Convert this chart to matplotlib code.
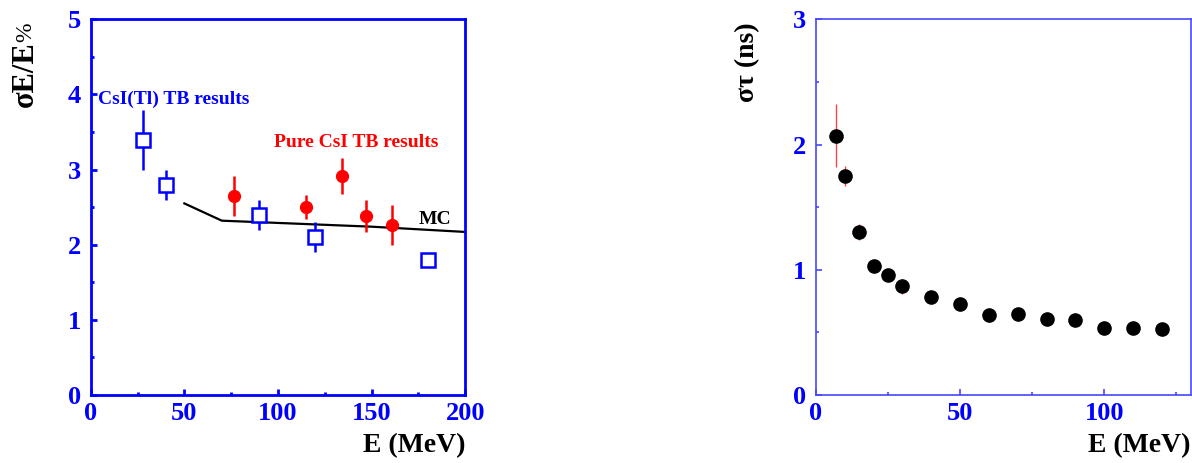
import matplotlib.pyplot as plt
from matplotlib.ticker import MultipleLocator

# left panel: energy resolution
csitl_e = [28, 40, 90, 120, 180]
csitl_res = [3.39, 2.80, 2.40, 2.10, 1.80]
csitl_err = [0.40, 0.20, 0.20, 0.20, 0.05]

pure_e = [76.5, 115, 134, 147, 161]
pure_res = [2.65, 2.50, 2.92, 2.38, 2.26]
pure_err = [0.27, 0.16, 0.24, 0.21, 0.27]

mc_e = [50, 70, 100, 150, 200]
mc_res = [2.55, 2.32, 2.29, 2.24, 2.17]

# right panel: time resolution
t_e = [7, 10, 15, 20, 25, 30, 40, 50, 60, 70, 80, 90, 100, 110, 120]
t_sigma = [2.07, 1.745, 1.30, 1.027, 0.956, 0.870, 0.783, 0.729, 0.641, 0.650, 0.607, 0.596, 0.538, 0.538, 0.530]
t_err = [0.25, 0.08, 0.065, 0.02, 0.02, 0.06, 0.02, 0.02, 0.02, 0.02, 0.02, 0.02, 0.02, 0.02, 0.02]

SERIF = ['Liberation Serif', 'DejaVu Serif']
W, H = 1192, 463

fig = plt.figure(figsize=(W / 100, H / 100), dpi=100)
ax1 = fig.add_axes([90.7 / W, 68 / H, 374.6 / W, 375.7 / H])
ax2 = fig.add_axes([816 / W, 68 / H, 374.7 / W, 375.7 / H])


def style_axes(ax, spine_color, spine_lw):
  for s in ax.spines.values():
    s.set_color(spine_color)
    s.set_linewidth(spine_lw)
  ax.tick_params(which='both', direction='in', top=False, right=False, colors=spine_color,
                 labelcolor='blue', width=spine_lw)
  ax.tick_params(which='major', length=4.3)
  ax.tick_params(which='minor', length=2.2)
  ax.tick_params(axis='x', pad=5)
  ax.tick_params(axis='y', pad=7)
  for lab in ax.get_xticklabels() + ax.get_yticklabels():
    lab.set_fontfamily(SERIF)
    lab.set_fontweight('bold')
    lab.set_fontsize(19)


# left
ax1.errorbar(csitl_e, csitl_res, yerr=csitl_err, fmt='s', ms=10, mfc='white', mec='blue', mew=1.8,
             ecolor='blue', elinewidth=1.8, capsize=0, zorder=3)
ax1.errorbar(pure_e, pure_res, yerr=pure_err, fmt='o', ms=8.5, mfc='red', mec='red',
             ecolor='red', elinewidth=1.8, capsize=0, zorder=3)
ax1.plot(mc_e, mc_res, color='black', lw=1.6, zorder=2)
ax1.set_xlim(0, 200)
ax1.set_ylim(0, 5)
ax1.xaxis.set_major_locator(MultipleLocator(50))
ax1.xaxis.set_minor_locator(MultipleLocator(25))
ax1.yaxis.set_major_locator(MultipleLocator(1))
ax1.yaxis.set_minor_locator(MultipleLocator(0.5))
style_axes(ax1, 'blue', 2.0)

ax1.text(4, 3.94, 'CsI(Tl) TB results', color='blue', fontsize=14, fontweight='bold',
         family=SERIF, va='center', ha='left')
ax1.text(98, 3.36, 'Pure CsI TB results', color='red', fontsize=14, fontweight='bold',
         family=SERIF, va='center', ha='left')
ax1.text(175, 2.34, 'MC', color='black', fontsize=14, fontweight='bold',
         family=SERIF, va='center', ha='left')
ax1.text(1.0, -0.136, 'E (MeV)', transform=ax1.transAxes, ha='right', va='center',
         fontsize=20, fontweight='bold', family=SERIF)
fig.text(26 / W, 1 - 22 / H, '%', rotation=90, ha='center', va='top', fontsize=17, family=SERIF)
fig.text(25 / W, 1 - 41 / H, 'σE/E', rotation=90, ha='center', va='top', fontsize=22,
         fontweight='bold', family=SERIF)

# right
ax2.errorbar(t_e, t_sigma, yerr=t_err, fmt='o', ms=9.5, mfc='black', mec='black',
             ecolor='#ff4040', elinewidth=1.0, capsize=0, zorder=3)
ax2.set_xlim(0, 130)
ax2.set_ylim(0, 3)
ax2.xaxis.set_major_locator(MultipleLocator(50))
ax2.xaxis.set_minor_locator(MultipleLocator(25))
ax2.yaxis.set_major_locator(MultipleLocator(1))
ax2.yaxis.set_minor_locator(MultipleLocator(0.5))
style_axes(ax2, '#4848ff', 1.2)

ax2.text(1.0, -0.136, 'E (MeV)', transform=ax2.transAxes, ha='right', va='center',
         fontsize=20, fontweight='bold', family=SERIF)
fig.text(748 / W, 1 - 22 / H, 'στ (ns)', rotation=90, ha='center', va='top', fontsize=20,
         fontweight='bold', family=SERIF)

fig.savefig('out.png', dpi=100)
